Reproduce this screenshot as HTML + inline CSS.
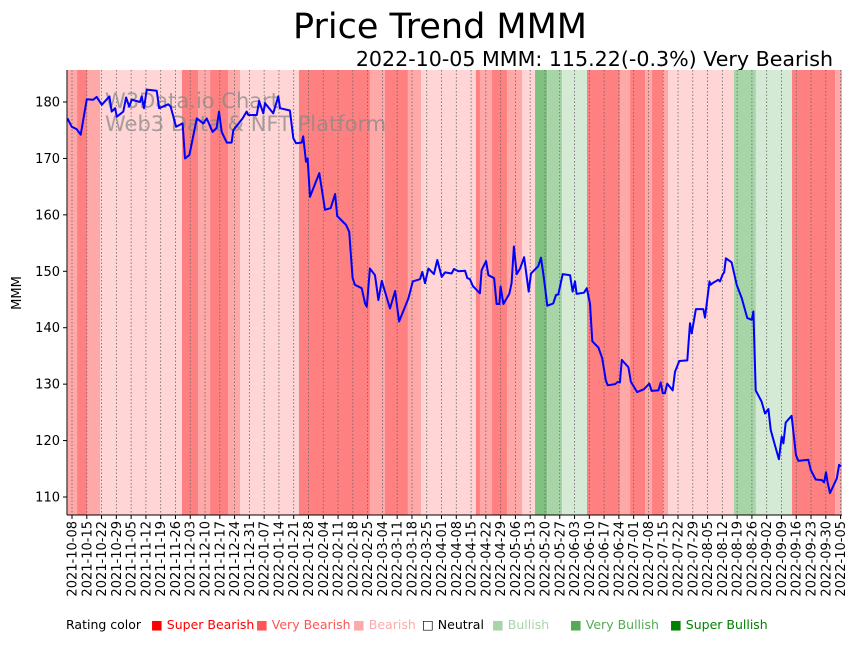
<!DOCTYPE html>
<html><head><meta charset="utf-8"><style>
html,body{margin:0;padding:0;background:#fff;}
svg text{font-family:"DejaVu Sans","Liberation Sans",sans-serif;}
</style></head><body>
<svg id="chart" width="860" height="641" viewBox="0 0 860 641" xmlns="http://www.w3.org/2000/svg">
<text x="440" y="38" font-size="35" text-anchor="middle" fill="#000">Price Trend MMM</text>
<text x="833" y="66" font-size="20.6" text-anchor="end" fill="#000">2022-10-05 MMM: 115.22(-0.3%) Very Bearish</text>
<g id="bands"></g>
<g id="grid"></g>
<text x="105" y="108" font-size="21" fill="#888" fill-opacity="0.75">W3Data.io Chart</text>
<text x="105" y="131" font-size="21" fill="#888" fill-opacity="0.75">Web3 Data &amp; NFT Platform</text>
<path id="line" fill="none" stroke="#0000ff" stroke-width="2" stroke-linejoin="round"/>
<g id="axes"></g>
<text transform="translate(21,293) rotate(-90)" font-size="13" text-anchor="middle">MMM</text>
<g font-size="12.5">
<text x="66" y="629">Rating color</text>
<text x="151" y="629" fill="#ff0000">■ Super Bearish</text>
<text x="256" y="629" fill="#ff5555">■ Very Bearish</text>
<text x="353" y="629" fill="#ffaaaa">■ Bearish</text>
<text x="422" y="629" fill="#000">□ Neutral</text>
<text x="492" y="629" fill="#a8d5a8">■ Bullish</text>
<text x="570" y="629" fill="#55aa55">■ Very Bullish</text>
<text x="670" y="629" fill="#008000">■ Super Bullish</text>
</g>
</svg>
<script>
// data
const bandStarts = [-3,-2,2.4,7.1,13.3,52.1,59.7,65.4,73.9,79.6,107.5,141.1,148.2,159.1,165.3,191.3,193.2,198.9,206,213.1,219.3,225,232.1,243.9,259.5,264.3,271.4,274.7,279.9,282.3,286.1,313.5,323.9,341,361.4];
const bandRatings = [-1,-1,-2,-1,-1,-2,-1,-2,-1,-1,-2,-1,-2,-1,-1,-2,-1,-2,-1,-1,3,2,1,-2,-1,-2,-1,-2,-1,-1,-1,2,1,-2,-1];
const bandLevels = [1,2,3,2,1,3,2,3,2,1,3,2,3,2,1,3,2,3,2,1,3,2,1,3,2,3,2,3,2,1,1,2,1,3,2];
const dayOffsets = [-2.2,-0.1,2.2,4.1,7.0,10.1,11.7,14.1,17.7,18.8,20.4,21.2,24.3,25.6,27.1,28.3,32.2,33.0,34.1,35.4,40.1,41.3,45.6,46.7,49.3,52.4,53.5,55.6,59.1,62.2,63.8,66.6,68.5,69.6,70.9,73.3,75.6,76.4,80.8,82.7,83.5,87.5,88.6,90.6,91.4,95.3,97.7,98.5,103.2,104.8,106.1,108.8,109.5,110.8,111.6,112.7,117.1,119.8,122.5,124.6,125.6,129.8,131.3,132.9,134.0,137.2,138.8,139.6,141.1,143.5,145.1,146.7,150.6,153.0,154.9,159.3,161.4,164.8,165.9,167.2,168.8,171.4,173.0,175.1,176.7,179.8,180.9,183.0,186.1,187.2,188.5,189.8,193.2,194.0,196.1,197.2,199.9,201.1,202.4,203.0,204.3,207.1,208.2,209.3,210.6,212.2,214.1,216.3,217.4,220.8,222.1,223.5,225.1,227.9,229.2,230.3,232.4,235.9,237.1,238.2,239.0,242.5,243.8,245.3,246.4,249.3,251.1,252.8,253.7,257.2,258.5,259.5,260.4,263.5,264.7,267.7,270.9,273.4,274.5,277.7,278.8,279.8,280.8,281.9,284.5,285.6,287.6,291.4,292.7,293.5,295.5,299.0,299.8,301.9,302.5,303.4,306.1,306.9,308.2,308.9,309.7,312.4,314.8,317.2,319.8,321.9,322.7,323.8,326.6,328.2,329.8,330.9,332.9,334.8,336.1,336.9,338.0,340.8,342.9,344.0,348.7,349.9,352.2,355.1,356.2,357.1,357.8,359.0,362.2,363.3,364.2];
const prices = [177.1,175.6,175.2,174.2,180.5,180.4,180.9,179.5,181,178.3,178.9,177.4,178.3,180.8,179.2,180.4,180,181,178.9,182.2,182,178.9,179.6,179.2,175.6,176.2,170,170.6,177.1,176.2,177.1,174.7,175.4,178.3,174.7,172.8,172.8,175,177.1,178.3,177.7,177.7,180.2,178,179.8,178,181,178.9,178.5,173.6,172.7,172.8,173.9,169.4,170,163.2,167.4,160.9,161.2,163.7,159.8,158.2,157,148.8,147.6,147,144.3,143.7,150.5,149.3,144.9,148.3,143.4,146.5,141.1,145.2,148.2,148.6,149.9,147.9,150.5,149.5,152,149,149.8,149.6,150.4,150,150.1,148.8,148.6,147.4,146.1,150.2,151.8,149.3,148.8,144.2,144.2,147.3,144.2,146,147.9,154.4,149.5,150.5,152.5,146.4,149.6,150.9,152.4,148.8,143.9,144.3,145.8,145.9,149.5,149.3,146.4,148.2,146,146.2,147,144.3,137.6,136.5,134.6,130.7,129.8,130,130.4,130.3,134.3,133,130.4,128.6,129.1,130.1,128.8,128.9,130.3,128.4,128.4,130.1,128.9,132.2,134.1,134.2,140.8,139,143.3,143.3,141.8,148.2,147.6,147.9,148.5,148.2,149.5,149.8,152.3,151.6,147.6,145.2,141.7,141.4,142.9,128.9,126.9,124.8,125.6,121.9,119.2,116.7,120.7,119.5,123.2,124.4,117.4,116.4,116.6,114.8,113.1,113,112.6,114.4,112.7,110.7,113.3,115.7,115.4];
const yTicks = [110,120,130,140,150,160,170,180];
const startDate = "2021-10-08";

const NS="http://www.w3.org/2000/svg";
const X0=67,X1=842,Y0=70,Y1=515;
const xs=d=>72+d*2.1115;
const ys=v=>102+(180-v)*5.643;
const colors={"-1":["#ffd5d5","#ffa8a8","#ff8080"],"1":["#d5ead5","#a8d5a8","#80c080"]};
function mk(tag,attrs,parent){const e=document.createElementNS(NS,tag);for(const k in attrs)e.setAttribute(k,attrs[k]);parent.appendChild(e);return e;}
const bands=document.getElementById('bands');
for(let i=0;i<bandStarts.length;i++){
  const a=Math.max(X0,xs(bandStarts[i]));
  const b=i+1<bandStarts.length?xs(bandStarts[i+1]):X1;
  const sign=bandRatings[i]<0?"-1":"1";
  const r=mk('rect',{x:a,y:Y0,width:Math.max(0,Math.min(b,X1)-a),height:Y1-Y0,fill:colors[sign][bandLevels[i]-1]},bands);
  
  
}
const grid=document.getElementById('grid'),axes=document.getElementById('axes');
const sd=new Date(startDate+"T00:00:00Z");
const tickDays=[];for(let w=0;w<52;w++)tickDays.push(w*7);
const lastTickPos=364, lastTickLabel="2022-10-05";
tickDays.push(lastTickPos);
tickDays.forEach((d,i)=>{
  const x=xs(d);
  const g=mk('line',{x1:x,x2:x,y1:Y0,y2:Y1,stroke:"#666","stroke-width":0.8,"stroke-dasharray":"1.5,2"},grid);
  
  
  mk('line',{x1:x,x2:x,y1:Y1,y2:Y1+4,stroke:"#000","stroke-width":1},axes);
  const dt=new Date(sd.getTime()+d*86400000);
  const t=mk('text',{transform:`translate(${x+4.5},${Y1+6}) rotate(-90)`,"font-size":13,"text-anchor":"end"},axes);
  t.textContent=(i===tickDays.length-1)?lastTickLabel:dt.toISOString().slice(0,10);
  
  
});
yTicks.forEach(v=>{
  const y=ys(v);
  mk('line',{x1:X0-4,x2:X0,y1:y,y2:y,stroke:"#000","stroke-width":1},axes);
  const t=mk('text',{x:X0-7,y:y+4.5,"font-size":13,"text-anchor":"end"},axes);
  t.textContent=v;
  
  
});
mk('line',{x1:X0,x2:X0,y1:Y0,y2:Y1,stroke:"#000","stroke-width":1},axes);
mk('line',{x1:X0,x2:X1,y1:Y1,y2:Y1,stroke:"#000","stroke-width":1},axes);
let dpath="";
for(let i=0;i<prices.length;i++){dpath+=(i?"L":"M")+Math.max(X0,xs(dayOffsets[i])).toFixed(1)+","+ys(prices[i]).toFixed(1);}
document.getElementById('line').setAttribute('d',dpath);
</script>
</body></html>
